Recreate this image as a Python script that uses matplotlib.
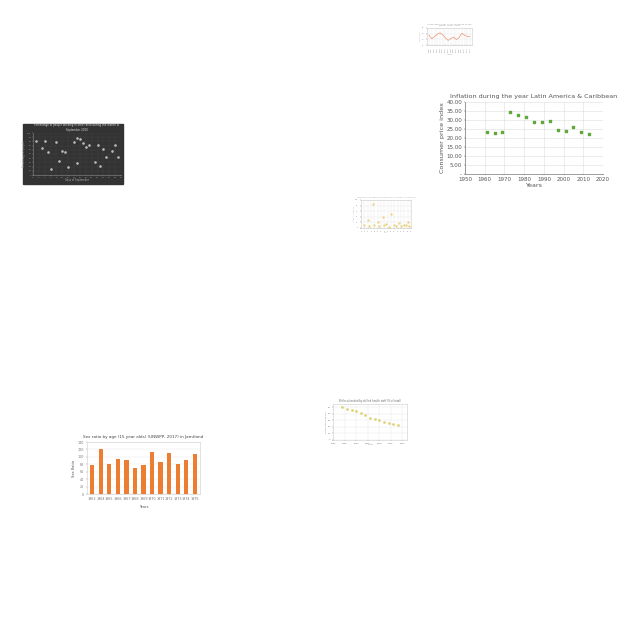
import matplotlib.pyplot as plt
from matplotlib.patches import Rectangle

# inflation chart (main, right)
infl_years = [1961, 1965, 1969, 1973, 1977, 1981, 1985, 1989, 1993, 1997, 2001, 2005, 2009, 2013]
infl_cpi = [23.5, 22.8, 23.5, 34.5, 33.0, 31.5, 28.8, 29.0, 29.7, 24.2, 24.1, 26.2, 23.6, 22.3]

# sex ratio bars (bottom left)
sex_years = ["1963", "1964", "1965", "1966", "1967", "1968", "1969",
             "1970", "1971", "1972", "1973", "1974", "1975"]
sex_ratio = [78, 120, 82, 95, 91, 70, 78, 114, 86, 111, 80, 92, 109]

# dark scatter (left)
dark_day = [1, 3, 4, 5, 6, 8, 9, 10, 11, 12, 14, 15, 15, 16, 17, 18, 19, 21, 22, 23, 24, 25, 27, 28, 29]
dark_pct = [82, 64, 82, 54, 14, 78, 34, 58, 54, 18, 78, 28, 88, 86, 76, 66, 72, 30, 71, 22, 62, 42, 56, 72, 42]

# small line chart (top)
line_labels = ["1990", "1991", "1992", "1993", "1994", "1995", "1996", "1997",
               "1998", "1999", "2000", "2001", "2002", "2003", "2004", "2005"]
line_vals = [55, 42, 50, 58, 63, 56, 45, 36, 43, 48, 39, 46, 61, 55, 50, 49]

# faint scatter (middle)
faint_x = [2, 4, 5, 7, 8, 10, 11, 13, 14, 15, 17, 18, 20, 21, 23, 24, 26, 27, 28, 29]
faint_y = [10, 30, 8, 85, 12, 20, 6, 40, 9, 15, 5, 50, 11, 8, 18, 6, 12, 9, 20, 7]

# decreasing scatter (bottom right)
dec_years = [1994, 1996, 1998, 2000, 2002, 2004, 2006, 2008, 2010, 2012, 2014, 2016, 2018]
dec_vals = [50, 47, 46, 44, 42, 38, 34, 32, 30, 28, 26, 25, 23]

W = 640.0


def box(x0, y0, x1, y1):
    return [x0 / W, 1 - y1 / W, (x1 - x0) / W, (y1 - y0) / W]


def light_axes(ax, fs=2):
    for s in ax.spines.values():
        s.set_color("#cccccc")
        s.set_linewidth(0.4)
    ax.tick_params(labelsize=fs, length=1, width=0.3, colors="#777777", pad=1)
    ax.grid(color="#e6e6e6", linewidth=0.3)
    ax.set_axisbelow(True)


fig = plt.figure(figsize=(6.4, 6.4), dpi=100)

# --- main inflation chart
ax = fig.add_axes(box(465, 102, 603, 174))
ax.scatter(infl_years, infl_cpi, s=3, marker="s", color="#5fa83a", zorder=3)
ax.set_xlim(1950, 2020)
ax.set_ylim(0, 40)
ax.set_xticks(range(1950, 2021, 10))
ax.set_yticks(range(0, 41, 5))
ax.set_yticklabels(["-"] + ["%.2f" % v for v in range(5, 41, 5)])
light_axes(ax, fs=4)
ax.grid(color="#dddddd", linewidth=0.4)
ax.spines["left"].set_color("#555555")
ax.spines["bottom"].set_color("#555555")
ax.spines["top"].set_visible(False)
ax.spines["right"].set_visible(False)
ax.tick_params(colors="#555555")
ax.set_title("Inflation during the year Latin America & Caribbean", fontsize=4.6, color="#555555", pad=3)
ax.set_xlabel("Years", fontsize=4.6, color="#555555", labelpad=1)
ax.set_ylabel("Consumer price index", fontsize=4.6, color="#555555", labelpad=1)

# --- dark scatter
fig.patches.append(Rectangle((23 / W, 1 - 184 / W), 100 / W, 60 / W,
                             transform=fig.transFigure, color="#333333", zorder=-5))
ax = fig.add_axes(box(33, 133, 121, 175))
ax.set_facecolor("#333333")
ax.scatter(dark_day, dark_pct, s=0.8, color="#b8b8b8", zorder=3)
ax.set_xlim(0, 30)
ax.set_ylim(0, 100)
ax.set_xticks(range(0, 31, 2))
ax.set_yticks(range(0, 101, 10))
for s in ax.spines.values():
    s.set_visible(False)
ax.spines["left"].set_visible(True)
ax.spines["bottom"].set_visible(True)
ax.spines["left"].set_color("#888888")
ax.spines["bottom"].set_color("#888888")
ax.spines["left"].set_linewidth(0.4)
ax.spines["bottom"].set_linewidth(0.4)
ax.tick_params(labelsize=1.5, length=0.8, width=0.3, colors="#999999", pad=0.5)
ax.grid(color="#444444", linewidth=0.3)
ax.set_axisbelow(True)
ax.set_title("Percentage of people working in other area during the month of\nSeptember 2020",
             fontsize=1.9, color="#dddddd", pad=1.5)
ax.set_xlabel("Days of September", fontsize=1.8, color="#aaaaaa", labelpad=0.5)
ax.set_ylabel("Percentage of people", fontsize=1.8, color="#aaaaaa", labelpad=0.5)

# --- sex ratio bars
ax = fig.add_axes(box(87, 442, 200, 494))
ax.bar(sex_years, sex_ratio, width=0.5, color="#ed7d31", zorder=3)
ax.set_ylim(0, 140)
ax.set_yticks(range(0, 141, 20))
ax.set_xlim(-0.6, len(sex_years) - 0.4)
light_axes(ax, fs=2.4)
ax.grid(axis="x", visible=False)
ax.set_title("Sex ratio by age (15 year olds) (UNWPP, 2017) in Jamtland", fontsize=3, color="#444444", pad=3)
ax.set_xlabel("Years", fontsize=2.6, color="#555555", labelpad=3)
ax.set_ylabel("Sex Ratio", fontsize=2.6, color="#555555", labelpad=1)

# --- small line chart top
ax = fig.add_axes(box(427, 28, 472, 45))
ax.plot(range(len(line_vals)), line_vals, color="#f0936e", linewidth=0.5)
ax.set_xticks(range(len(line_labels)))
ax.set_xticklabels(line_labels, rotation=90)
ax.set_ylim(20, 80)
light_axes(ax, fs=1.3)
ax.set_title("Crude death rate in the countries of the\nworld, 1990 - 2005", fontsize=1.6, color="#999999", pad=1.5)
ax.set_xlabel("Years", fontsize=1.4, color="#aaaaaa", labelpad=1)
ax.set_ylabel("Death rate", fontsize=1.3, color="#aaaaaa", labelpad=0.5)

# --- faint scatter middle
ax = fig.add_axes(box(361, 200, 411, 228))
ax.scatter(faint_x, faint_y, s=0.8, color="#e8d27a", alpha=0.7, zorder=3)
ax.set_xlim(0, 30)
ax.set_ylim(0, 100)
ax.set_xticks(range(0, 31, 2))
ax.set_yticks(range(0, 101, 20))
light_axes(ax, fs=1.2)
ax.set_title("Number of people who died due to disease in the world", fontsize=1.5, color="#aaaaaa", pad=1.5)
ax.set_xlabel("Days", fontsize=1.3, color="#bbbbbb", labelpad=0.5)
ax.set_ylabel("Number of people", fontsize=1.3, color="#bbbbbb", labelpad=0.5)

# --- decreasing scatter bottom right
ax = fig.add_axes(box(333, 404, 407, 440))
ax.scatter(dec_years, dec_vals, s=1.0, color="#e0d47a", zorder=3)
ax.set_xlim(1990, 2022)
ax.set_ylim(0, 55)
ax.set_xticks(range(1990, 2021, 5))
ax.set_yticks(range(0, 51, 10))
light_axes(ax, fs=1.6)
ax.set_title("Births attended by skilled health staff (% of total)", fontsize=1.8, color="#666666", pad=1.5)
ax.set_xlabel("Year", fontsize=1.6, color="#888888", labelpad=0.5)
ax.set_ylabel("Births attended (%)", fontsize=1.6, color="#888888", labelpad=0.5)

fig.savefig("out.png", dpi=100)
